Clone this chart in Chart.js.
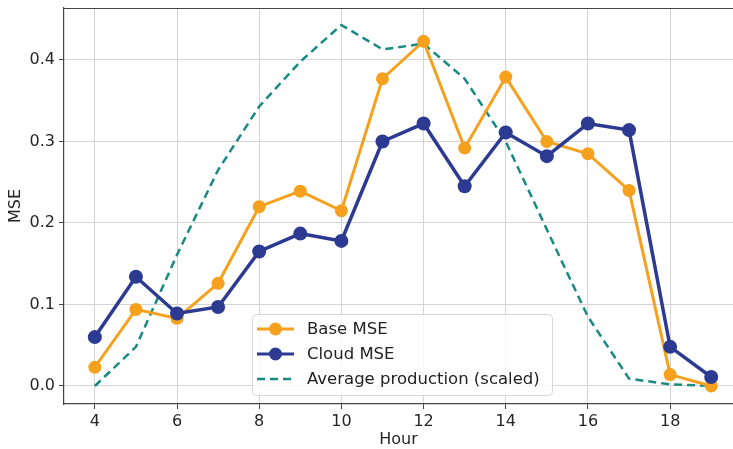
<!DOCTYPE html>
<html>
<head>
<meta charset="utf-8">
<script src="https://cdn.jsdelivr.net/npm/chart.js@4.4.1/dist/chart.umd.min.js"></script>
<style>
  html, body { margin: 0; padding: 0; background: #fff; overflow: hidden; }
  #wrap { width: 733px; height: 449px; }
</style>
</head>
<body>
<div id="wrap"><canvas id="mseChart" width="733" height="449"></canvas></div>
<script>
// values
const hours = [4, 5, 6, 7, 8, 9, 10, 11, 12, 13, 14, 15, 16, 17, 18, 19];
const baseMse = [0.023, 0.094, 0.083, 0.126, 0.220, 0.239, 0.215, 0.377, 0.423, 0.292, 0.379, 0.300, 0.285, 0.240, 0.014, 0.000];
const cloudMse = [0.060, 0.134, 0.089, 0.097, 0.165, 0.187, 0.178, 0.300, 0.322, 0.245, 0.311, 0.282, 0.322, 0.314, 0.048, 0.011];
const avgProduction = [0.000, 0.048, 0.161, 0.265, 0.343, 0.398, 0.443, 0.413, 0.420, 0.377, 0.300, 0.192, 0.085, 0.009, 0.002, 0.000];
const xTicks = [4, 6, 8, 10, 12, 14, 16, 18];
const yTicks = [0.0, 0.1, 0.2, 0.3, 0.4];

const C_BASE = '#f5a11e';
const C_CLOUD = '#2c3a91';
const C_AVG = '#178a82';
const FONT = 'DejaVu Sans';
const FS = 16;

const toXY = ys => hours.map((h, i) => ({ x: h, y: ys[i] }));

// ── légende dans le graphique + cadre du haut ──
const frameAndLegend = {
  id: 'frameAndLegend',
  afterDraw(chart) {
    const { ctx, chartArea: a } = chart;
    ctx.save();
    // top spine
    ctx.strokeStyle = '#444';
    ctx.lineWidth = 1.2;
    ctx.beginPath();
    ctx.moveTo(a.left, a.top + 0.5);
    ctx.lineTo(a.right, a.top + 0.5);
    ctx.stroke();

    // legend box
    const bx = 252, by = 314, bw = 300, bh = 81, r = 4;
    ctx.fillStyle = 'rgba(255,255,255,0.8)';
    ctx.strokeStyle = '#d6d6d6';
    ctx.lineWidth = 1;
    ctx.beginPath();
    ctx.roundRect(bx + 0.5, by + 0.5, bw, bh, r);
    ctx.fill();
    ctx.stroke();

    const items = [
      { label: 'Base MSE', color: C_BASE, marker: true, dash: [] },
      { label: 'Cloud MSE', color: C_CLOUD, marker: true, dash: [] },
      { label: 'Average production (scaled)', color: C_AVG, marker: false, dash: [8, 5] }
    ];
    ctx.font = '16.5px "' + FONT + '"';
    ctx.textBaseline = 'middle';
    items.forEach((it, i) => {
      const cy = by + 15 + i * 25;
      ctx.strokeStyle = it.color;
      ctx.lineWidth = it.marker ? 3 : 2.5;
      ctx.setLineDash(it.dash);
      ctx.beginPath();
      ctx.moveTo(bx + 5, cy);
      ctx.lineTo(bx + 42, cy);
      ctx.stroke();
      ctx.setLineDash([]);
      if (it.marker) {
        ctx.fillStyle = it.color;
        ctx.beginPath();
        ctx.arc(bx + 23.5, cy, 6.5, 0, Math.PI * 2);
        ctx.fill();
      }
      ctx.fillStyle = '#222';
      ctx.fillText(it.label, bx + 55, cy + 1);
    });
    ctx.restore();
  }
};

new Chart(document.getElementById('mseChart'), {
  type: 'line',
  data: {
    datasets: [
      {
        label: 'Base MSE',
        data: toXY(baseMse),
        borderColor: C_BASE, backgroundColor: C_BASE,
        borderWidth: 3, pointRadius: 6.5, pointBorderWidth: 0,
        tension: 0, order: 2
      },
      {
        label: 'Cloud MSE',
        data: toXY(cloudMse),
        borderColor: C_CLOUD, backgroundColor: C_CLOUD,
        borderWidth: 3.5, pointRadius: 7, pointBorderWidth: 0,
        tension: 0, order: 1
      },
      {
        label: 'Average production (scaled)',
        data: toXY(avgProduction),
        borderColor: C_AVG,
        borderWidth: 2.5, borderDash: [8, 5],
        pointRadius: 0, tension: 0, order: 3
      }
    ]
  },
  options: {
    responsive: false,
    animation: false,
    layout: { autoPadding: false, padding: { left: 0, right: 0, top: 8, bottom: 0 } },
    plugins: { legend: { display: false }, tooltip: { enabled: false } },
    scales: {
      x: {
        type: 'linear', min: 3.25, max: 19.53,
        afterBuildTicks: s => { s.ticks = xTicks.map(v => ({ value: v })); },
        afterFit: s => { s.height = 45; s.paddingLeft = 0; s.paddingRight = 0; },
        grid: { color: '#d4d4d4', lineWidth: 1, tickColor: '#444', tickLength: 5 },
        border: { color: '#444', width: 1.2 },
        ticks: { color: '#262626', font: { family: FONT, size: FS }, padding: 3, maxRotation: 0 },
        title: { display: true, text: 'Hour', color: '#262626', font: { family: FONT, size: FS }, padding: { top: 0, bottom: 0 } }
      },
      y: {
        type: 'linear', min: -0.0221, max: 0.4638,
        afterBuildTicks: s => { s.ticks = yTicks.map(v => ({ value: v })); },
        afterFit: s => { s.width = 64; s.paddingTop = 0; s.paddingBottom = 0; },
        grid: { color: '#d4d4d4', lineWidth: 1, tickColor: '#444', tickLength: 5 },
        border: { color: '#444', width: 1.2 },
        ticks: { color: '#262626', font: { family: FONT, size: FS }, padding: 4, callback: v => v.toFixed(1) },
        title: { display: true, text: 'MSE', color: '#262626', font: { family: FONT, size: FS }, padding: { top: 6, bottom: 0 } }
      }
    }
  },
  plugins: [frameAndLegend]
});
</script>
</body>
</html>
